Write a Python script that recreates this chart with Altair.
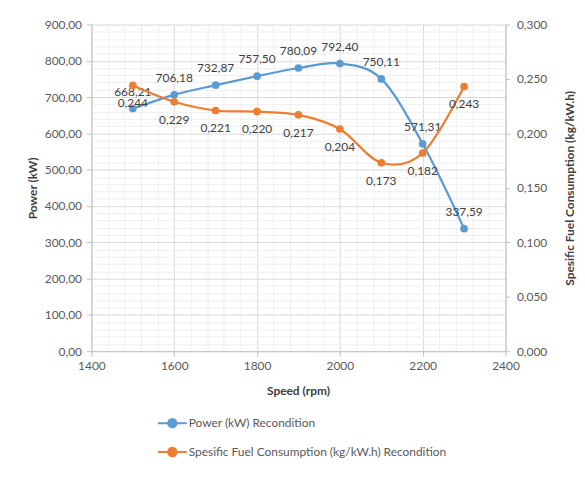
import altair as alt
import pandas as pd

speed = [1500, 1600, 1700, 1800, 1900, 2000, 2100, 2200, 2300]
power = [668.21, 706.18, 732.87, 757.50, 780.09, 792.40, 750.11, 571.31, 337.59]
sfc = [0.244, 0.229, 0.221, 0.220, 0.217, 0.204, 0.173, 0.182, 0.243]

s_power = "Power (kW) Recondition"
s_sfc = "Spesific Fuel Consumption (kg/kW.h) Recondition"
series_names = [s_power, s_sfc]
series_colors = ["#5B9BD5", "#ED7D31"]

df = pd.DataFrame({
    "speed": speed,
    "power": power,
    "sfc": sfc,
    "power_label": [f"{v:.2f}".replace(".", ",") for v in power],
    "sfc_label": [f"{v:.3f}".replace(".", ",") for v in sfc],
    "s_power": [s_power] * len(speed),
    "s_sfc": [s_sfc] * len(speed),
})

FONT = "Lato"
LABEL_COLOR = "#595959"
TITLE_COLOR = "#404040"
MAJOR = "#d9d9d9"
MINOR = "#efefef"

W, H = 417, 329

legend_symbol = "M-1,0L1,0M0.29,0A0.29,0.29,0,1,1,-0.29,0A0.29,0.29,0,1,1,0.29,0Z"

def mk_legend():
    return alt.Legend(
        title=None, orient="none", legendX=66, legendY=386, direction="vertical",
        symbolType=legend_symbol, symbolSize=841, symbolStrokeWidth=2,
        labelFont=FONT, labelFontSize=12, labelColor=LABEL_COLOR, labelOffset=1,
        rowPadding=5, padding=0, labelLimit=400,
    )

fill_scale = alt.Scale(domain=series_names, range=series_colors)
stroke_scale = alt.Scale(domain=series_names, range=series_colors)

x_enc = alt.X(
    "speed:Q",
    scale=alt.Scale(domain=[1400, 2400], nice=False, zero=False),
    title="Speed (rpm)",
    axis=alt.Axis(
        values=list(range(1400, 2401, 40)),
        labelExpr="datum.value % 200 === 0 ? datum.value : ''",
        labelOverlap=False, labelFlush=False,
        gridColor={"condition": {"test": "datum.value % 200 === 0", "value": MAJOR}, "value": MINOR},
        tickColor={"condition": {"test": "datum.value % 200 === 0", "value": "#bfbfbf"}, "value": "transparent"},
        tickSize=5, labelPadding=4, domainColor="#bfbfbf",
        titleX=208, titleY=40, titleBaseline="middle",
    ),
)

y_power = alt.Y(
    "power:Q",
    scale=alt.Scale(domain=[0, 900], nice=False),
    title="Power (kW)",
    axis=alt.Axis(
        values=list(range(0, 901, 20)),
        labelExpr="datum.value % 100 === 0 ? replace(format(datum.value, '.2f'), '.', ',') : ''",
        labelOverlap=False, labelFlush=False,
        gridColor={"condition": {"test": "datum.value % 100 === 0", "value": MAJOR}, "value": MINOR},
        tickColor={"condition": {"test": "datum.value % 100 === 0", "value": "#bfbfbf"}, "value": "transparent"},
        tickSize=5, labelPadding=5, domainColor="#bfbfbf",
        titleX=-59, titleY=164.5, titleBaseline="middle", titleAngle=270,
    ),
)

y_sfc = alt.Y(
    "sfc:Q",
    scale=alt.Scale(domain=[0, 0.3], nice=False),
    title="Spesific Fuel Consumption (kg/kW.h)",
    axis=alt.Axis(
        orient="right",
        values=[0, 0.05, 0.1, 0.15, 0.2, 0.25, 0.3],
        labelExpr="replace(format(datum.value, '.3f'), '.', ',')",
        labelFlush=False,
        grid=False, tickColor="#bfbfbf", tickSize=4, labelPadding=7, domainColor="#bfbfbf",
        titleX=64, titleY=164.5, titleBaseline="middle", titleAngle=270,
    ),
)

base = alt.Chart(df)

power_line = base.mark_line(interpolate="cardinal", strokeWidth=2.25).encode(
    x=x_enc, y=y_power,
    stroke=alt.Stroke("s_power:N", scale=stroke_scale, legend=mk_legend()),
)
power_pts = base.mark_point(filled=True, size=60, opacity=1).encode(
    x=x_enc, y=y_power,
    fill=alt.Fill("s_power:N", scale=fill_scale, legend=mk_legend()),
)
power_txt = base.mark_text(dy=-17, font=FONT, fontSize=12, color="#404040").encode(
    x=x_enc, y=y_power, text="power_label:N",
)

sfc_line = base.mark_line(interpolate="cardinal", strokeWidth=2.25).encode(
    x=x_enc, y=y_sfc,
    stroke=alt.Stroke("s_sfc:N", scale=stroke_scale, legend=mk_legend()),
)
sfc_pts = base.mark_point(filled=True, size=60, opacity=1).encode(
    x=x_enc, y=y_sfc,
    fill=alt.Fill("s_sfc:N", scale=fill_scale, legend=mk_legend()),
)
sfc_txt = base.mark_text(dy=18, font=FONT, fontSize=12, color="#404040").encode(
    x=x_enc, y=y_sfc, text="sfc_label:N",
)

left = alt.layer(power_line, power_pts, power_txt)
right = alt.layer(sfc_line, sfc_pts, sfc_txt)

chart = alt.layer(left, right).resolve_scale(y="independent").properties(
    width=W, height=H,
    autosize=alt.AutoSizeParams(type="none"),
    padding={"left": 84, "top": 15, "right": 72, "bottom": 110},
    background="white",
).configure_view(strokeWidth=0).configure_axis(
    labelFont=FONT, labelFontSize=12, labelColor=LABEL_COLOR,
    titleFont=FONT, titleFontSize=12, titleFontWeight="bold", titleColor=TITLE_COLOR,
    gridWidth=1, domainWidth=1,
)

chart.save("out.html", embed_options={"renderer": "svg", "actions": False})
